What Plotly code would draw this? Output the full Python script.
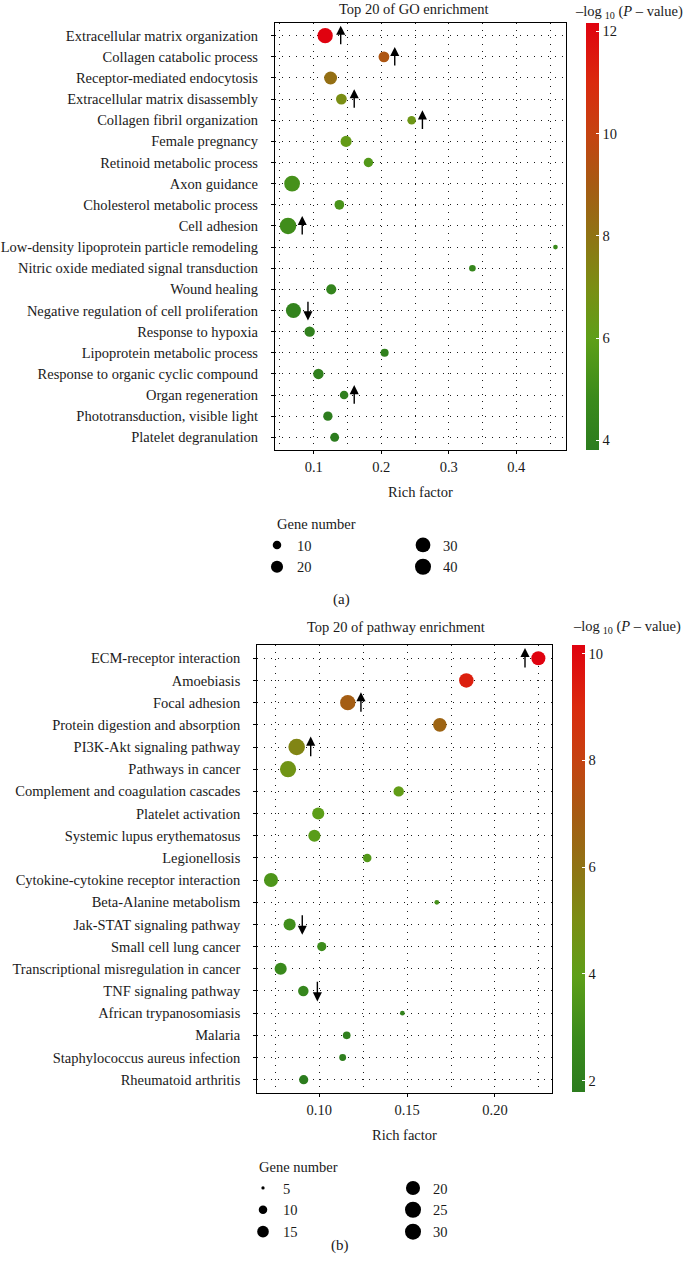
import math
import plotly.graph_objects as go

# ---------------- data: panel (a) GO enrichment ----------------
go_terms = ["Extracellular matrix organization", "Collagen catabolic process",
            "Receptor-mediated endocytosis", "Extracellular matrix disassembly",
            "Collagen fibril organization", "Female pregnancy",
            "Retinoid metabolic process", "Axon guidance",
            "Cholesterol metabolic process", "Cell adhesion",
            "Low-density lipoprotein particle remodeling",
            "Nitric oxide mediated signal transduction", "Wound healing",
            "Negative regulation of cell proliferation", "Response to hypoxia",
            "Lipoprotein metabolic process", "Response to organic cyclic compound",
            "Organ regeneration", "Phototransduction, visible light",
            "Platelet degranulation"]
go_rich = [0.117, 0.204, 0.125, 0.141, 0.245, 0.148, 0.181, 0.068, 0.138, 0.062,
           0.458, 0.335, 0.126, 0.070, 0.094, 0.205, 0.107, 0.145, 0.121, 0.131]
go_genes = [32, 16, 23, 16, 10, 17, 12, 34, 13, 37, 3, 6, 14, 31, 15, 9, 15, 10, 12, 11]
go_logp = [12.16, 9.2, 8.2, 7.0, 6.5, 6.2, 5.6, 5.2, 5.3, 5.0,
           4.8, 4.5, 4.4, 4.3, 4.2, 4.2, 4.1, 4.0, 3.9, 3.81]
go_arrow_terms = ["Extracellular matrix organization", "Collagen catabolic process",
                  "Extracellular matrix disassembly", "Collagen fibril organization",
                  "Cell adhesion", "Negative regulation of cell proliferation",
                  "Organ regeneration"]
go_arrow_x = [0.140, 0.220, 0.160, 0.261, 0.083, 0.0915, 0.160]
go_arrow_dir = ["up", "up", "up", "up", "up", "down", "up"]
go_legend_col1 = [10, 20]
go_legend_col2 = [30, 40]

# ---------------- data: panel (b) pathway enrichment ----------------
kegg_terms = ["ECM-receptor interaction", "Amoebiasis", "Focal adhesion",
              "Protein digestion and absorption", "PI3K-Akt signaling pathway",
              "Pathways in cancer", "Complement and coagulation cascades",
              "Platelet activation", "Systemic lupus erythematosus", "Legionellosis",
              "Cytokine-cytokine receptor interaction", "Beta-Alanine metabolism",
              "Jak-STAT signaling pathway", "Small cell lung cancer",
              "Transcriptional misregulation in cancer", "TNF signaling pathway",
              "African trypanosomiasis", "Malaria", "Staphylococcus aureus infection",
              "Rheumatoid arthritis"]
kegg_rich = [0.2247, 0.1837, 0.1162, 0.1686, 0.0871, 0.0822, 0.1452, 0.0994, 0.0972, 0.1273,
             0.0725, 0.1669, 0.0831, 0.1014, 0.0780, 0.0909, 0.1473, 0.1156, 0.1133, 0.0911]
kegg_genes = [20, 21, 23, 19, 26, 25, 13, 16, 16, 10, 20, 6, 16, 11, 16, 13, 6, 9, 8, 11]
kegg_logp = [10.16, 9.3, 6.9, 6.6, 5.3, 4.6, 4.1, 3.9, 3.8, 3.6,
             3.4, 3.2, 3.0, 2.9, 2.7, 2.5, 2.3, 2.1, 2.0, 1.79]
kegg_arrow_terms = ["ECM-receptor interaction", "Focal adhesion",
                    "PI3K-Akt signaling pathway", "Jak-STAT signaling pathway",
                    "TNF signaling pathway"]
kegg_arrow_x = [0.2171, 0.1237, 0.0951, 0.0903, 0.0989]
kegg_arrow_dir = ["up", "up", "up", "down", "down"]
kegg_legend_col1 = [5, 10, 15]
kegg_legend_col2 = [20, 25, 30]

# ---------------- styling ----------------
FONT = "Liberation Serif"
TXT = "#1a1a1a"
W, H = 693, 1268


def px_x(p):
    return p / W


def px_y(p):
    return 1 - p / H


def size_a(v):
    return 2.7 * math.sqrt(v)


def size_b(v):
    return 3.59 * math.sqrt(max(v - 4, 0)) - 0.3


colorscale = [
    [0.00, "#2c7c1e"],
    [0.12, "#3a8a1c"],
    [0.26, "#5e9f18"],
    [0.38, "#7a8e14"],
    [0.50, "#8f7414"],
    [0.62, "#a65b13"],
    [0.74, "#c54311"],
    [0.86, "#da2a0e"],
    [1.00, "#e0020f"],
]

fig = go.Figure()

fig.add_trace(go.Scatter(
    x=go_rich, y=list(range(len(go_terms))), mode="markers",
    marker=dict(size=[size_a(v) for v in go_genes], color=go_logp,
                coloraxis="coloraxis", opacity=1, line=dict(width=0)),
    xaxis="x", yaxis="y", showlegend=False, hoverinfo="skip"))
fig.add_trace(go.Scatter(
    x=kegg_rich, y=list(range(len(kegg_terms))), mode="markers",
    marker=dict(size=[size_b(v) for v in kegg_genes], color=kegg_logp,
                coloraxis="coloraxis2", opacity=1, line=dict(width=0)),
    xaxis="x2", yaxis="y2", showlegend=False, hoverinfo="skip"))

for vals, lg, fn, xa, ya in [(go_legend_col1, "legend", size_a, "x", "y"),
                             (go_legend_col2, "legend2", size_a, "x", "y"),
                             (kegg_legend_col1, "legend3", size_b, "x2", "y2"),
                             (kegg_legend_col2, "legend4", size_b, "x2", "y2")]:
    for v in vals:
        fig.add_trace(go.Scatter(x=[None], y=[None], mode="markers", name=str(v),
                                 marker=dict(size=fn(v), color="black"),
                                 legend=lg, xaxis=xa, yaxis=ya))

grid = dict(showgrid=True, gridcolor="#1a1a1a", gridwidth=1, griddash="1px,6px")
axis_common = dict(showline=True, mirror=True, linecolor="black", linewidth=1.2,
                   ticks="outside", ticklen=3, tickcolor="black", zeroline=False,
                   automargin=False,
                   tickfont=dict(family=FONT, size=14.5, color=TXT))


def cbar(x, y, length):
    return dict(x=px_x(x), xanchor="left", xpad=0, y=px_y(y), yanchor="top", ypad=0,
                lenmode="pixels", len=length, thickness=13, outlinewidth=0,
                ticks="inside", ticklen=3, tickcolor="white", tick0=0, dtick=2,
                tickfont=dict(family=FONT, size=14.5, color=TXT))


def legend_box(x, y):
    return dict(orientation="v", x=px_x(x), y=px_y(y), xanchor="left", yanchor="top",
                itemsizing="trace", font=dict(family=FONT, size=14.5, color=TXT),
                traceorder="normal", bgcolor="rgba(0,0,0,0)")


fig.update_layout(
    width=W, height=H, margin=dict(l=0, r=0, t=0, b=0, autoexpand=False),
    paper_bgcolor="white", plot_bgcolor="white",
    font=dict(family=FONT, size=14, color=TXT),
    xaxis=dict(domain=[px_x(275), px_x(566)], range=[0.0427, 0.4736], anchor="y",
               tickvals=[0.1, 0.2, 0.3, 0.4],
               minor=dict(dtick=0.05, tick0=0, showgrid=True, gridcolor="#1a1a1a",
                          gridwidth=1, griddash="1px,6px", ticks=""),
               title=dict(text="Rich factor", font=dict(family=FONT, size=14.5), standoff=13),
               **grid, **axis_common),
    yaxis=dict(domain=[px_y(450), px_y(23)], range=[19.6, -0.6], anchor="x",
               tickvals=list(range(len(go_terms))), ticktext=go_terms,
               ticklabelstandoff=10, **grid, **axis_common),
    xaxis2=dict(domain=[px_x(257.3), px_x(551.7)], range=[0.0647, 0.2323], anchor="y2",
                tickvals=[0.10, 0.15, 0.20], ticktext=["0.10", "0.15", "0.20"],
                minor=dict(dtick=0.025, tick0=0, showgrid=True, gridcolor="#1a1a1a",
                           gridwidth=1, griddash="1px,6px", ticks=""),
                title=dict(text="Rich factor", font=dict(family=FONT, size=14.5), standoff=13),
                **grid, **axis_common),
    yaxis2=dict(domain=[px_y(1093), px_y(645)], range=[19.6, -0.6], anchor="x2",
                tickvals=list(range(len(kegg_terms))), ticktext=kegg_terms,
                ticklabelstandoff=10, **grid, **axis_common),
    coloraxis=dict(colorscale=colorscale, colorbar=cbar(586, 23, 427)),
    coloraxis2=dict(colorscale=colorscale, colorbar=cbar(572, 645, 447)),
    legend=legend_box(257, 529),
    legend2=legend_box(403, 529),
    legend3=legend_box(243, 1172),
    legend4=legend_box(393, 1172),
)

ann = []
cb_title = "\u2013log\u2009<sub>10</sub> (<i>P</i> \u2013 value)"


def label(text, x, y, anchor="center", size=14.5):
    return dict(text=text, x=px_x(x), y=px_y(y), xref="paper", yref="paper",
                xanchor=anchor, yanchor="middle", showarrow=False,
                font=dict(family=FONT, size=size, color=TXT))


ann.append(label("Top 20 of GO enrichment", 414, 9))
ann.append(label("Top 20 of pathway enrichment", 396, 627))
ann.append(label(cb_title, 573, 12, "left", 14.5))
ann.append(label(cb_title, 571, 627, "left", 14.5))
ann.append(label("Gene number", 275, 524, "left"))
ann.append(label("Gene number", 257, 1167, "left"))
ann.append(label("(a)", 341, 600, size=15))
ann.append(label("(b)", 340, 1245, size=15))


def arrow(xr, yr, x, row, d):
    if d == "up":
        head, tail = row - 0.47, row + 0.48
    else:
        head, tail = row + 0.47, row - 0.48
    return dict(x=x, y=head, ax=x, ay=tail, xref=xr, yref=yr, axref=xr, ayref=yr,
                text="", showarrow=True, arrowhead=2, arrowsize=1.3, arrowwidth=1.4,
                arrowcolor="black")


for t, x, d in zip(go_arrow_terms, go_arrow_x, go_arrow_dir):
    ann.append(arrow("x", "y", x, go_terms.index(t), d))
for t, x, d in zip(kegg_arrow_terms, kegg_arrow_x, kegg_arrow_dir):
    ann.append(arrow("x2", "y2", x, kegg_terms.index(t), d))

fig.update_layout(annotations=ann)
fig.write_html("out.html", config={"displayModeBar": False},
               post_script="document.body.style.margin='0';document.body.style.padding='0';")
